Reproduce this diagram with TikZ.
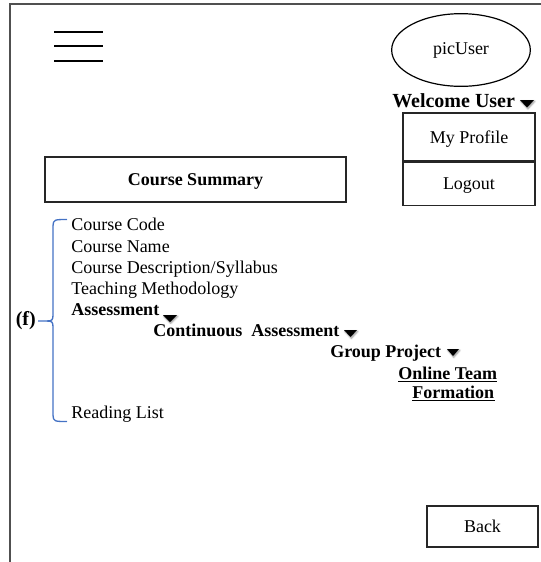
\documentclass[tikz,border=0pt]{standalone}
\usepackage{fontspec}
\setmainfont{Liberation Serif}
\usetikzlibrary{shapes.geometric,shadows.blur}
\definecolor{bracecol}{RGB}{68,114,196}
\definecolor{framecol}{RGB}{80,80,80}
\begin{document}
\begin{tikzpicture}[x=0.75pt,y=-0.75pt,
  every node/.style={font=\fontsize{13.5}{16}\selectfont, inner sep=0pt},
  txt/.style={anchor=base west},
  bold/.style={font=\fontsize{13.5}{16}\selectfont\bfseries},
  box/.style={draw=black!85, line width=0.9pt, text height=9pt, text depth=0pt},
  bar/.style={line width=1.5pt, black},
  tri/.style={fill=black, blur shadow={shadow xshift=0.6pt, shadow yshift=-1pt,
      shadow blur radius=1.2pt, shadow opacity=45}},
  bracepath/.style={draw=bracecol, line width=1pt},
  uline/.style={line width=1pt}]

\useasboundingbox (0,0) rectangle (541,562);

% page frame
\draw[draw=framecol, line width=1.1pt] (541,4) -- (10,4) -- (10,562);

% menu icon
\draw[bar] (54,32) -- (103,32);
\draw[bar] (54,46) -- (103,46);
\draw[bar] (54,61) -- (103,61);

% user picture
\node[ellipse, draw, line width=0.9pt, minimum width=104pt, minimum height=54.5pt]
  (pic) at (461,50) {picUser};

% user menu
\node[txt, font=\fontsize{15}{18}\selectfont\bfseries] (welcome) at (392,107) {Welcome User};
\fill[tri] (520,100) -- (534,100) -- (527,107.5) -- cycle;
\node[box, minimum width=99pt, minimum height=36pt] (profile) at (469,137) {My Profile};
\node[box, minimum width=99pt, minimum height=32.25pt, anchor=north] (logout)
  at (profile.south) {Logout};

% page title
\node[box, bold, minimum width=225.75pt, minimum height=33.75pt] (summary)
  at (195.5,179.5) {Course Summary};

% course contents
\node[txt] (code) at (71,230) {Course Code};
\node[txt] (name) at (71,252) {Course Name};
\node[txt] (desc) at (71,273) {Course Description/Syllabus};
\node[txt] (teach) at (71,294) {Teaching Methodology};
\node[txt, bold] (assess) at (71,315) {Assessment};
\fill[tri] (163,315) -- (177,315) -- (170,322) -- cycle;
\node[txt, bold] (cont) at (153,336) {Continuous\ \ Assessment};
\fill[tri] (344,330) -- (357,330) -- (350.5,337) -- cycle;
\node[txt, bold] (group) at (330,357) {Group Project};
\fill[tri] (447,349) -- (459,349) -- (453,356) -- cycle;
\node[txt, bold] (team) at (398,379) {Online Team};
\node[txt, bold] (form) at (412,398) {Formation};
\draw[uline] ([yshift=-1.7pt]team.base west) -- ([yshift=-1.7pt]team.base east);
\draw[uline] ([yshift=-1.7pt]form.base west) -- ([yshift=-1.7pt]form.base east);
\node[txt] (reading) at (71,418) {Reading List};

% bracket grouping the contents
\coordinate (tip) at (38,321);
\node[font=\fontsize{15}{18}\selectfont\bfseries, anchor=east] (f) at (36,321) {(f)};
\draw[bracepath] (67,219.5) .. controls (55,219.5) and (53,219.5) .. (53,226)
  -- (53,315) .. controls (53,320) and (52,321) .. (47,321) -- (tip);
\draw[bracepath] (47,321) .. controls (52,321) and (53,322) .. (53,327)
  -- (53,415) .. controls (53,421.5) and (55,421.5) .. (67,421.5);

% navigation
\node[box, minimum width=83.25pt, minimum height=30.75pt] (back) at (482.5,526.5) {Back};

\end{tikzpicture}
\end{document}
